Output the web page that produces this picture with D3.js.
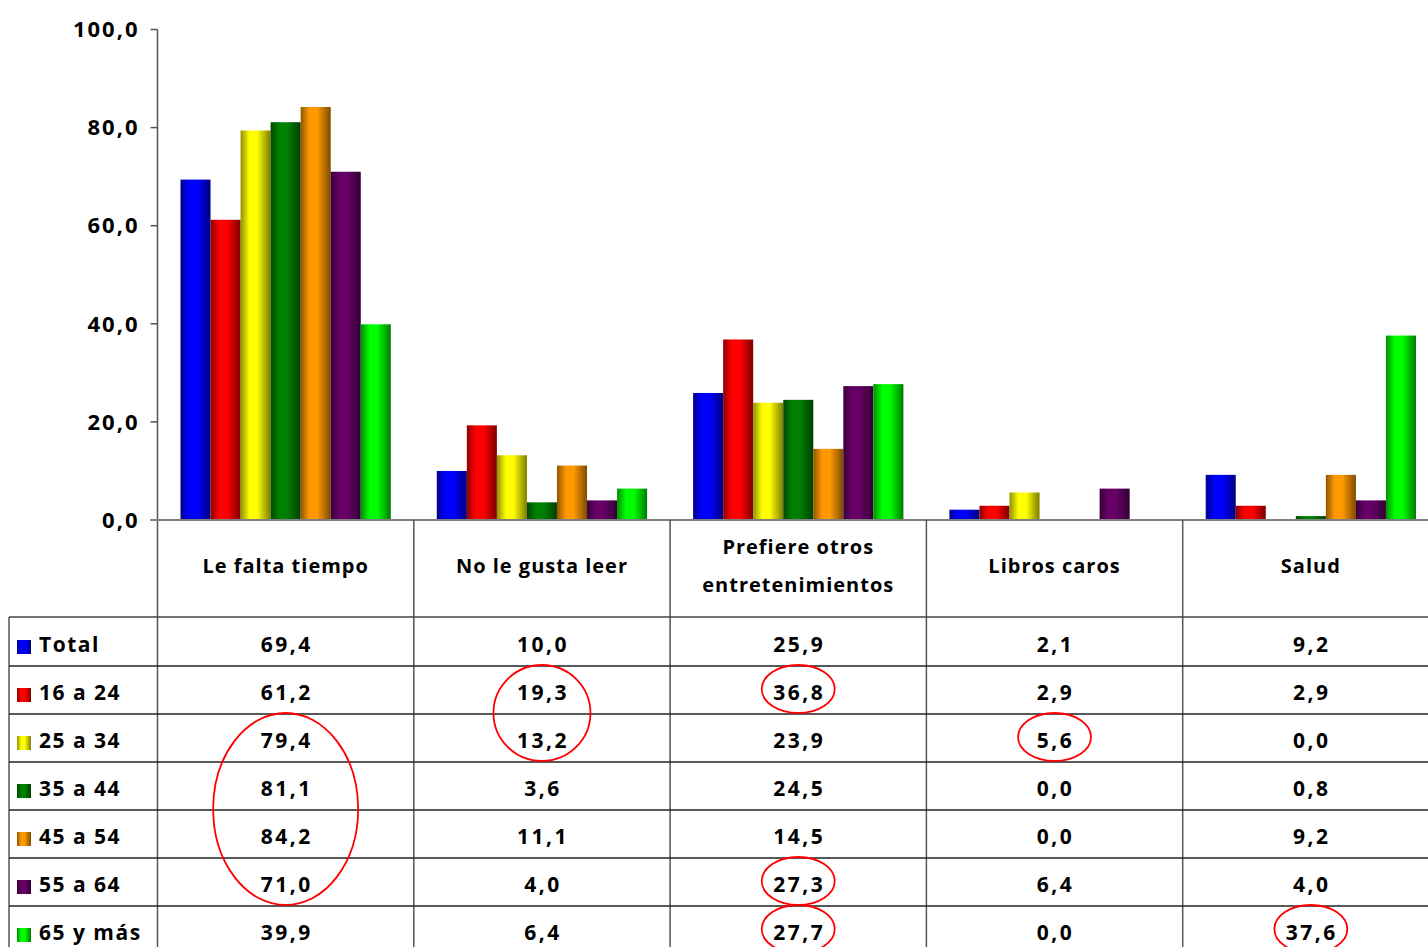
<!DOCTYPE html>
<html>
<head>
<meta charset="utf-8">
<script src="https://d3js.org/d3.v7.min.js"></script>
<title>Motivos para no leer</title>
<style>
  body { margin: 0; background: #fff; }
  svg text { font-family: "Comic Sans MS", "Open Sans", sans-serif; font-weight: 700; fill: #000; }
</style>
</head>
<body>
<svg id="chart" width="1428" height="947"></svg>
<script>
// data
const categories = ["Le falta tiempo", "No le gusta leer", "Prefiere otros entretenimientos", "Libros caros", "Salud"];
const series = ["Total", "16 a 24", "25 a 34", "35 a 44", "45 a 54", "55 a 64", "65 y más"];
const total   = [69.4, 10.0, 25.9, 2.1, 9.2];
const age1624 = [61.2, 19.3, 36.8, 2.9, 2.9];
const age2534 = [79.4, 13.2, 23.9, 5.6, 0.0];
const age3544 = [81.1, 3.6, 24.5, 0.0, 0.8];
const age4554 = [84.2, 11.1, 14.5, 0.0, 9.2];
const age5564 = [71.0, 4.0, 27.3, 6.4, 4.0];
const age65   = [39.9, 6.4, 27.7, 0.0, 37.6];
const yTicks = [0, 20, 40, 60, 80, 100];
// red circles drawn over the table: category, first and last highlighted row
const highlights = [
  {cat: 0, from: 2, to: 5},
  {cat: 1, from: 1, to: 2},
  {cat: 2, from: 1, to: 1},
  {cat: 2, from: 5, to: 5},
  {cat: 2, from: 6, to: 6},
  {cat: 3, from: 2, to: 2},
  {cat: 4, from: 6, to: 6}
];

const values = [total, age1624, age2534, age3544, age4554, age5564, age65];
const colors = ["#0000ff", "#ff0000", "#ffff00", "#008000", "#ff9900", "#660066", "#00ff00"];

const svg = d3.select("svg#chart");
const locale = d3.formatLocale({decimal: ",", thousands: ".", grouping: [3], currency: ["", "€"]});
const fmt = locale.format(".1f");

// layout
const plotLeft = 157.5, plotRight = 1439;
const y0 = 520, yTop = 29.5;
const tableLeft = 9, headerBottom = 617, rowH = 48;

const x0 = d3.scaleBand().domain(d3.range(categories.length)).range([plotLeft, plotRight]);
const x1 = d3.scaleBand().domain(d3.range(series.length)).range([23, x0.bandwidth() - 23]);
const y = d3.scaleLinear().domain([0, 100]).range([y0, yTop]);
const rowY = i => headerBottom + 1 + i * rowH;

// gradients
const defs = svg.append("defs");
colors.forEach((c, i) => {
  const g = defs.append("linearGradient").attr("id", "grad" + i)
    .attr("x1", "0%").attr("x2", "100%").attr("y1", "0%").attr("y2", "0%");
  const base = d3.rgb(c);
  g.append("stop").attr("offset", "0%").attr("stop-color", base.darker(1.6));
  g.append("stop").attr("offset", "30%").attr("stop-color", base);
  g.append("stop").attr("offset", "55%").attr("stop-color", base);
  g.append("stop").attr("offset", "100%").attr("stop-color", base.darker(2));
});

// y axis
const yAxis = svg.append("g").attr("transform", `translate(${plotLeft},0)`);
yAxis.append("line").attr("x1", 0).attr("x2", 0).attr("y1", yTop).attr("y2", 947)
  .attr("stroke", "#555").attr("stroke-width", 1.5);
yTicks.forEach(t => {
  yAxis.append("line").attr("x1", -7).attr("x2", 0).attr("y1", y(t)).attr("y2", y(t))
    .attr("stroke", "#555").attr("stroke-width", 1.5);
  yAxis.append("text").attr("x", -18).attr("y", y(t)).attr("dy", "0.35em")
    .attr("text-anchor", "end").attr("font-size", 22).attr("letter-spacing", 2).text(fmt(t));
});

// bars
const barG = svg.append("g");
categories.forEach((cat, ci) => {
  series.forEach((s, si) => {
    const v = values[si][ci];
    if (v <= 0) return;
    barG.append("rect")
      .attr("x", x0(ci) + x1(si))
      .attr("y", y(v))
      .attr("width", x1.bandwidth())
      .attr("height", y0 - y(v) + 1)
      .attr("fill", `url(#grad${si})`);
  });
});

// category axis line
svg.append("line").attr("x1", plotLeft - 7).attr("x2", 1428).attr("y1", y0).attr("y2", y0)
  .attr("stroke", "#808080").attr("stroke-width", 2);

// table grid
const grid = svg.append("g");
categories.forEach((cat, ci) => {
  if (ci === 0) return;
  grid.append("line").attr("x1", x0(ci)).attr("x2", x0(ci)).attr("y1", y0).attr("y2", 947)
    .attr("stroke", "#555").attr("stroke-width", 1.5);
});
grid.append("line").attr("x1", tableLeft).attr("x2", tableLeft).attr("y1", headerBottom).attr("y2", 947)
  .attr("stroke", "#555").attr("stroke-width", 1.5);
grid.append("line").attr("x1", tableLeft).attr("x2", 1428).attr("y1", headerBottom).attr("y2", headerBottom)
  .attr("stroke", "#444").attr("stroke-width", 1.5);
series.forEach((s, si) => {
  if (si === 0) return;
  grid.append("line").attr("x1", tableLeft).attr("x2", 1428).attr("y1", rowY(si)).attr("y2", rowY(si))
    .attr("stroke", "#222").attr("stroke-width", 1.3);
});

// header labels
categories.forEach((cat, ci) => {
  const cx = x0(ci) + x0.bandwidth() / 2;
  const words = cat === "Prefiere otros entretenimientos" ? ["Prefiere otros", "entretenimientos"] : [cat];
  const t = svg.append("text").attr("text-anchor", "middle").attr("font-size", 20).attr("letter-spacing", 1);
  words.forEach((w, wi) => {
    t.append("tspan").attr("x", cx)
      .attr("y", 566 + (wi - (words.length - 1) / 2) * 38)
      .attr("dy", "0.35em").text(w);
  });
});

// row labels with legend keys and values
series.forEach((s, si) => {
  const cy = rowY(si) + rowH / 2 + 3;
  svg.append("rect").attr("x", 17).attr("y", cy - 5).attr("width", 14).attr("height", 14)
    .attr("fill", `url(#grad${si})`);
  svg.append("text").attr("x", 39).attr("y", cy).attr("dy", "0.35em")
    .attr("font-size", 21).attr("letter-spacing", 1.5).text(s);
  categories.forEach((cat, ci) => {
    svg.append("text").attr("x", x0(ci) + x0.bandwidth() / 2 + 1).attr("y", cy)
      .attr("dy", "0.35em").attr("text-anchor", "middle")
      .attr("font-size", 21).attr("letter-spacing", 2.5).text(fmt(values[si][ci]));
  });
});

// red circles
highlights.forEach(h => {
  const n = h.to - h.from + 1;
  svg.append("ellipse")
    .attr("cx", x0(h.cat) + x0.bandwidth() / 2)
    .attr("cy", (rowY(h.from) + rowY(h.to + 1)) / 2 - 1)
    .attr("rx", 36.5 + (n - 1) * 12)
    .attr("ry", n * rowH / 2)
    .attr("fill", "none").attr("stroke", "#ff0000").attr("stroke-width", 1.8);
});
</script>
</body>
</html>
